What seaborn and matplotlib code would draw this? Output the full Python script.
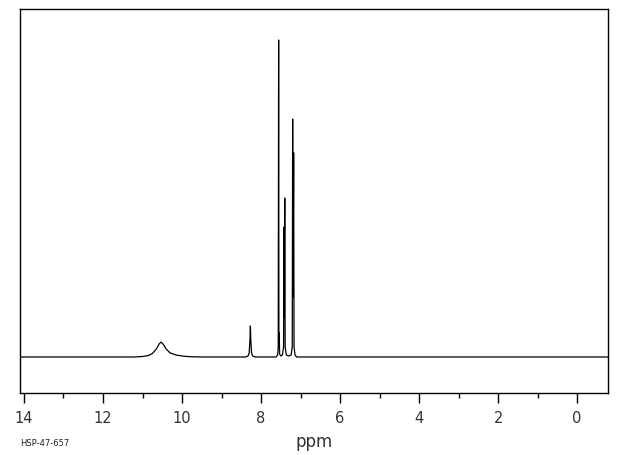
import matplotlib
matplotlib.use("Agg")
import matplotlib.pyplot as plt
import seaborn as sns
import pandas as pd
from matplotlib.ticker import MultipleLocator

# Hand-read spectrum trace (chemical shift in ppm, relative intensity)
ppm = [14.1, 11.2, 11.0, 10.85, 10.75, 10.65, 10.58, 10.53, 10.48, 10.40, 10.30, 10.15, 10.0, 9.8, 9.5,
       8.40, 8.33, 8.30, 8.28, 8.27, 8.26, 8.24, 8.21, 8.15,
       7.62, 7.58, 7.565, 7.555, 7.548, 7.54, 7.53, 7.50,
       7.46, 7.43, 7.42, 7.41, 7.40, 7.39, 7.36, 7.31,
       7.24, 7.21, 7.20, 7.19, 7.175, 7.165, 7.14, 7.10, -0.8]
intensity = [0, 0, 0.5, 1.5, 3.5, 8, 13, 15, 13, 8, 4, 2, 1, 0.3, 0,
             0, 1, 4, 18, 31, 18, 4, 1, 0,
             0, 2, 10, 317, 10, 24, 3, 1,
             2, 10, 130, 40, 159, 10, 2, 1,
             2, 10, 238, 60, 204, 10, 2, 0, 0]

major_ticks = [14, 12, 10, 8, 6, 4, 2, 0]
tick_labels = ["14", "12", "10", "8", "6", "4", "2", "0"]
x_label = "ppm"
sample_id = "HSP-47-657"

df = pd.DataFrame({"ppm": ppm, "intensity": intensity})

sns.set_theme(style="white")
plt.rcParams["font.family"] = ["DejaVu Sans"]

fig = plt.figure(figsize=(6.2, 4.55), dpi=100)
ax = fig.add_axes([20 / 620, 62 / 455, 588 / 620, 384 / 455])

sns.lineplot(data=df, x="ppm", y="intensity", sort=False, estimator=None,
             color="black", linewidth=0.9, ax=ax)

ax.set_xlim(14.1, -0.78)
ax.set_ylim(-36, 348)
ax.set_yticks([])
ax.set_ylabel("")

ax.set_xticks(major_ticks)
ax.set_xticklabels(tick_labels, fontsize=10.5, color="#333333")
ax.xaxis.set_minor_locator(MultipleLocator(1))
ax.tick_params(axis="x", which="major", direction="out", length=7.2, width=1,
               color="black", pad=6, bottom=True)
ax.tick_params(axis="x", which="minor", direction="out", length=3.6, width=1,
               color="black", bottom=True)
ax.set_xlabel(x_label, fontsize=12, color="#333333", labelpad=5)

for s in ax.spines.values():
    s.set_visible(True)
    s.set_color("black")
    s.set_linewidth(1)

fig.text(20 / 620, 1 - 443 / 455, sample_id, fontsize=6, color="#222222",
         ha="left", va="center")

fig.savefig("out.png", dpi=100)
